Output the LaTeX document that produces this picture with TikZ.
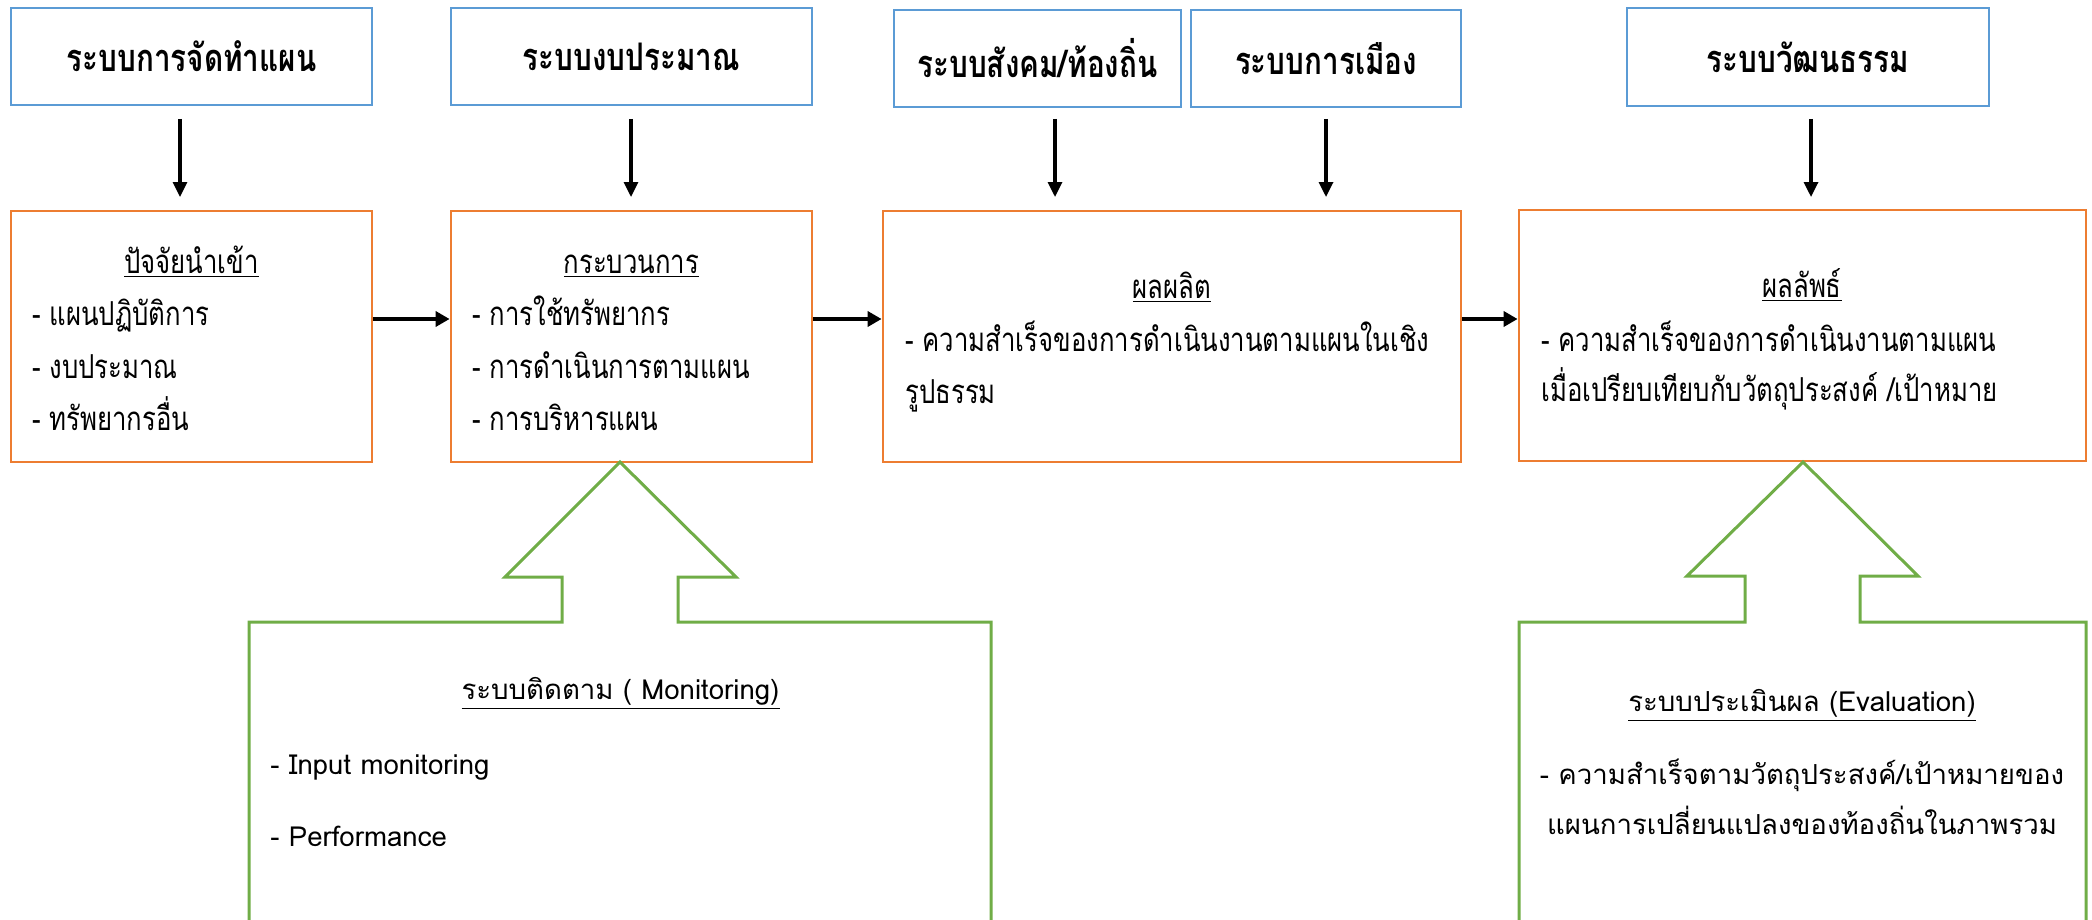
\documentclass[tikz,border=0pt]{standalone}
\usepackage{fontspec}
\usetikzlibrary{arrows.meta}
\newfontfamily\thn[Script=Thai,FakeStretch=0.78]{Loma}
\newfontfamily\thw[Script=Thai]{Loma}
\definecolor{obBlue}{HTML}{5B9BD5}
\definecolor{obOrange}{HTML}{ED7D31}
\definecolor{obGreen}{HTML}{70AD47}
\begin{document}
\begin{tikzpicture}[x=0.5pt,y=-0.5pt,
  bluebox/.style={draw=obBlue,line width=1.4pt,inner sep=0pt,
    font=\thn\bfseries\fontsize{19}{22}\selectfont},
  orangebox/.style={draw=obOrange,line width=1.4pt,inner sep=0pt},
  otext/.style={inner sep=0pt,text height=11pt,text depth=4pt,
    font=\thn\fontsize{16.5}{19}\selectfont},
  gtext/.style={inner sep=0pt,text height=10pt,text depth=3.5pt,
    font=\thw\fontsize{13.8}{16}\selectfont},
  greenshape/.style={draw=obGreen,line width=1.5pt,line join=miter},
  downarr/.style={draw=black,line width=1.6pt,-{Triangle[length=7.5pt,width=7pt]}},
  sidearr/.style={draw=black,line width=2.2pt,-{Triangle[length=7pt,width=7.5pt]}}]
\useasboundingbox (0,0) rectangle (2092,920);
% blue boxes
\node[bluebox,minimum width=180.5pt,minimum height=48.5pt] (b1) at (191.5,56.5) {ระบบการจัดทำแผน};
\node[bluebox,minimum width=180.5pt,minimum height=48.5pt] (b2) at (631.5,56.5) {ระบบงบประมาณ};
\node[bluebox,minimum width=143.5pt,minimum height=48.5pt] (b3) at (1037.5,58.5) {ระบบสังคม/ท้องถิ่น};
\node[bluebox,minimum width=135pt,minimum height=48.5pt] (b4) at (1326,58.5) {ระบบการเมือง};
\node[bluebox,minimum width=181pt,minimum height=49pt] (b5) at (1808,57) {ระบบวัฒนธรรม};
% orange boxes
\node[orangebox,minimum width=180.5pt,minimum height=125.5pt] (o1) at (191.5,336.5) {};
\node[orangebox,minimum width=180.5pt,minimum height=125.5pt] (o2) at (631.5,336.5) {};
\node[orangebox,minimum width=289pt,minimum height=125.5pt] (o3) at (1172,336.5) {};
\node[orangebox,minimum width=283.5pt,minimum height=125.5pt] (o4) at (1802.5,335.5) {};
% orange texts
\node[otext] (o1t) at (191.5,266) {\underline{ปัจจัยนำเข้า}};
\node[otext,anchor=west] (o1a) at (32,318) {- แผนปฏิบัติการ};
\node[otext,anchor=west] (o1b) at (32,371) {- งบประมาณ};
\node[otext,anchor=west] (o1c) at (32,423) {- ทรัพยากรอื่น};
\node[otext] (o2t) at (631.5,266) {\underline{กระบวนการ}};
\node[otext,anchor=west] (o2a) at (472,318) {- การใช้ทรัพยากร};
\node[otext,anchor=west] (o2b) at (472,371) {- การดำเนินการตามแผน};
\node[otext,anchor=west] (o2c) at (472,423) {- การบริหารแผน};
\node[otext] (o3t) at (1172,291) {\underline{ผลผลิต}};
\node[otext,anchor=west] (o3a) at (905,344) {- ความสำเร็จของการดำเนินงานตามแผนในเชิง};
\node[otext,anchor=west] (o3b) at (905,396) {รูปธรรม};
\node[otext] (o4t) at (1802,290) {\underline{ผลลัพธ์}};
\node[otext,anchor=west] (o4a) at (1541,344) {- ความสำเร็จของการดำเนินงานตามแผน};
\node[otext,anchor=west] (o4b) at (1541,394) {เมื่อเปรียบเทียบกับวัตถุประสงค์ /เป้าหมาย};
% down arrows
\coordinate (d1s) at (180,119);  \coordinate (d1e) at (180,197);
\coordinate (d2s) at (631,119);  \coordinate (d2e) at (631,197);
\coordinate (d3s) at (1055,119); \coordinate (d3e) at (1055,197);
\coordinate (d4s) at (1326,119); \coordinate (d4e) at (1326,197);
\coordinate (d5s) at (1811,119); \coordinate (d5e) at (1811,197);
\draw[downarr] (d1s) -- (d1e);
\draw[downarr] (d2s) -- (d2e);
\draw[downarr] (d3s) -- (d3e);
\draw[downarr] (d4s) -- (d4e);
\draw[downarr] (d5s) -- (d5e);
% side arrows
\coordinate (hy) at (0,319);
\draw[sidearr] (o1.east |- hy) -- (o2.west |- hy);
\draw[sidearr] (o2.east |- hy) -- (o3.west |- hy);
\draw[sidearr] (o3.east |- hy) -- (o4.west |- hy);
% green block arrows
\draw[greenshape] (249,930) -- (249,622) -- (562,622) -- (562,577) -- (505,577) -- (620,462)
  -- (736,577) -- (678,577) -- (678,622) -- (991,622) -- (991,930);
\draw[greenshape] (1519,930) -- (1519,622) -- (1745,622) -- (1745,576) -- (1687,576) -- (1803,462)
  -- (1918,576) -- (1860,576) -- (1860,622) -- (2086,622) -- (2086,930);
% green texts
\node[gtext] (g1t) at (620.5,693) {\underline{ระบบติดตาม ( Monitoring)}};
\node[gtext,anchor=west] (g1a) at (270,768) {- Input monitoring};
\node[gtext,anchor=west] (g1b) at (270,840) {- Performance};
\node[gtext] (g2t) at (1802,705) {\underline{ระบบประเมินผล (Evaluation)}};
\node[gtext] (g2a) at (1802,778) {- ความสำเร็จตามวัตถุประสงค์/เป้าหมายของ};
\node[gtext] (g2b) at (1802,828) {แผนการเปลี่ยนแปลงของท้องถิ่นในภาพรวม};
\end{tikzpicture}
\end{document}
